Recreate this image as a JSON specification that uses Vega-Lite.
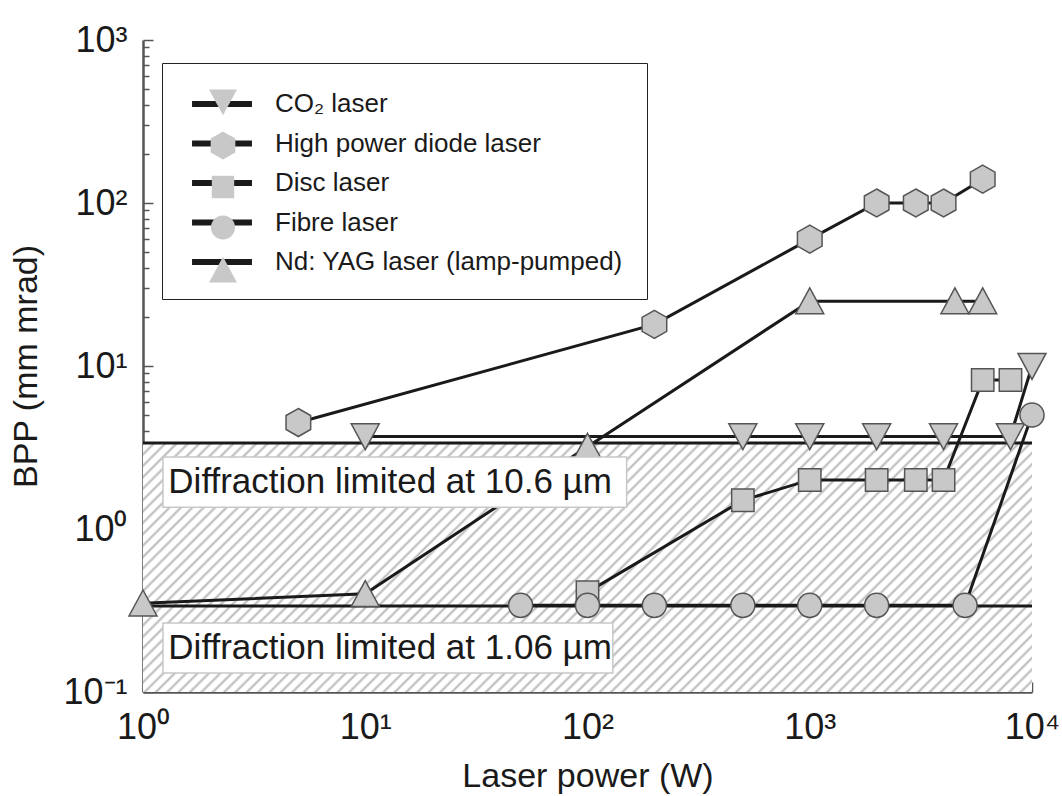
{
  "$schema": "https://vega.github.io/schema/vega-lite/v6.json",
  "width": 889,
  "height": 652,
  "autosize": {"type": "none"},
  "padding": {"left": 143, "top": 40, "right": 30, "bottom": 104},
  "background": "white",
  "config": {"view": {"stroke": null}, "font": "Liberation Sans"},
  "datasets": {
    "lasers": [
      {"series": "CO₂ laser", "code": "a", "power": 10, "bpp": 3.7},
      {"series": "CO₂ laser", "code": "a", "power": 500, "bpp": 3.7},
      {"series": "CO₂ laser", "code": "a", "power": 1000, "bpp": 3.7},
      {"series": "CO₂ laser", "code": "a", "power": 2000, "bpp": 3.7},
      {"series": "CO₂ laser", "code": "a", "power": 4000, "bpp": 3.7},
      {"series": "CO₂ laser", "code": "a", "power": 8000, "bpp": 3.7},
      {"series": "CO₂ laser", "code": "a", "power": 10000, "bpp": 10},
      {"series": "High power diode laser", "code": "b", "power": 5, "bpp": 4.5},
      {"series": "High power diode laser", "code": "b", "power": 200, "bpp": 18},
      {"series": "High power diode laser", "code": "b", "power": 1000, "bpp": 60},
      {"series": "High power diode laser", "code": "b", "power": 2000, "bpp": 100},
      {"series": "High power diode laser", "code": "b", "power": 3000, "bpp": 100},
      {"series": "High power diode laser", "code": "b", "power": 4000, "bpp": 100},
      {"series": "High power diode laser", "code": "b", "power": 6000, "bpp": 140},
      {"series": "Disc laser", "code": "c", "power": 100, "bpp": 0.41},
      {"series": "Disc laser", "code": "c", "power": 500, "bpp": 1.5},
      {"series": "Disc laser", "code": "c", "power": 1000, "bpp": 2},
      {"series": "Disc laser", "code": "c", "power": 2000, "bpp": 2},
      {"series": "Disc laser", "code": "c", "power": 3000, "bpp": 2},
      {"series": "Disc laser", "code": "c", "power": 4000, "bpp": 2},
      {"series": "Disc laser", "code": "c", "power": 6000, "bpp": 8.2},
      {"series": "Disc laser", "code": "c", "power": 8000, "bpp": 8.2},
      {"series": "Fibre laser", "code": "d", "power": 50, "bpp": 0.34},
      {"series": "Fibre laser", "code": "d", "power": 100, "bpp": 0.34},
      {"series": "Fibre laser", "code": "d", "power": 200, "bpp": 0.34},
      {"series": "Fibre laser", "code": "d", "power": 500, "bpp": 0.34},
      {"series": "Fibre laser", "code": "d", "power": 1000, "bpp": 0.34},
      {"series": "Fibre laser", "code": "d", "power": 2000, "bpp": 0.34},
      {"series": "Fibre laser", "code": "d", "power": 5000, "bpp": 0.34},
      {"series": "Fibre laser", "code": "d", "power": 10000, "bpp": 5},
      {"series": "Nd: YAG laser (lamp-pumped)", "code": "e", "power": 1, "bpp": 0.35},
      {"series": "Nd: YAG laser (lamp-pumped)", "code": "e", "power": 10, "bpp": 0.4},
      {"series": "Nd: YAG laser (lamp-pumped)", "code": "e", "power": 100, "bpp": 3.2},
      {"series": "Nd: YAG laser (lamp-pumped)", "code": "e", "power": 1000, "bpp": 25},
      {"series": "Nd: YAG laser (lamp-pumped)", "code": "e", "power": 4500, "bpp": 25},
      {"series": "Nd: YAG laser (lamp-pumped)", "code": "e", "power": 6000, "bpp": 25}
    ],
    "limits": [
      {"wavelength": "10.6 µm", "bpp": 3.37},
      {"wavelength": "1.06 µm", "bpp": 0.337}
    ]
  },
  "layer": [
    {
      "data": {"values": [{}]},
      "mark": {
        "type": "rect",
        "fill": {
          "gradient": "linear", "x1": 0, "y1": 0, "x2": 1.187, "y2": 0.332,
          "stops": [
            {"offset":0,"color":"#b8b8b8"},{"offset":0.0025,"color":"#fff"},{"offset":0.0075,"color":"#fff"},
            {"offset":0.01,"color":"#b8b8b8"},{"offset":0.0125,"color":"#fff"},{"offset":0.0175,"color":"#fff"},
            {"offset":0.02,"color":"#b8b8b8"},{"offset":0.0225,"color":"#fff"},{"offset":0.0275,"color":"#fff"},
            {"offset":0.03,"color":"#b8b8b8"},{"offset":0.0325,"color":"#fff"},{"offset":0.0375,"color":"#fff"},
            {"offset":0.04,"color":"#b8b8b8"},{"offset":0.0425,"color":"#fff"},{"offset":0.0475,"color":"#fff"},
            {"offset":0.05,"color":"#b8b8b8"},{"offset":0.0525,"color":"#fff"},{"offset":0.0575,"color":"#fff"},
            {"offset":0.06,"color":"#b8b8b8"},{"offset":0.0625,"color":"#fff"},{"offset":0.0675,"color":"#fff"},
            {"offset":0.07,"color":"#b8b8b8"},{"offset":0.0725,"color":"#fff"},{"offset":0.0775,"color":"#fff"},
            {"offset":0.08,"color":"#b8b8b8"},{"offset":0.0825,"color":"#fff"},{"offset":0.0875,"color":"#fff"},
            {"offset":0.09,"color":"#b8b8b8"},{"offset":0.0925,"color":"#fff"},{"offset":0.0975,"color":"#fff"},
            {"offset":0.10,"color":"#b8b8b8"},{"offset":0.1025,"color":"#fff"},{"offset":0.1075,"color":"#fff"},
            {"offset":0.11,"color":"#b8b8b8"},{"offset":0.1125,"color":"#fff"},{"offset":0.1175,"color":"#fff"},
            {"offset":0.12,"color":"#b8b8b8"},{"offset":0.1225,"color":"#fff"},{"offset":0.1275,"color":"#fff"},
            {"offset":0.13,"color":"#b8b8b8"},{"offset":0.1325,"color":"#fff"},{"offset":0.1375,"color":"#fff"},
            {"offset":0.14,"color":"#b8b8b8"},{"offset":0.1425,"color":"#fff"},{"offset":0.1475,"color":"#fff"},
            {"offset":0.15,"color":"#b8b8b8"},{"offset":0.1525,"color":"#fff"},{"offset":0.1575,"color":"#fff"},
            {"offset":0.16,"color":"#b8b8b8"},{"offset":0.1625,"color":"#fff"},{"offset":0.1675,"color":"#fff"},
            {"offset":0.17,"color":"#b8b8b8"},{"offset":0.1725,"color":"#fff"},{"offset":0.1775,"color":"#fff"},
            {"offset":0.18,"color":"#b8b8b8"},{"offset":0.1825,"color":"#fff"},{"offset":0.1875,"color":"#fff"},
            {"offset":0.19,"color":"#b8b8b8"},{"offset":0.1925,"color":"#fff"},{"offset":0.1975,"color":"#fff"},
            {"offset":0.20,"color":"#b8b8b8"},{"offset":0.2025,"color":"#fff"},{"offset":0.2075,"color":"#fff"},
            {"offset":0.21,"color":"#b8b8b8"},{"offset":0.2125,"color":"#fff"},{"offset":0.2175,"color":"#fff"},
            {"offset":0.22,"color":"#b8b8b8"},{"offset":0.2225,"color":"#fff"},{"offset":0.2275,"color":"#fff"},
            {"offset":0.23,"color":"#b8b8b8"},{"offset":0.2325,"color":"#fff"},{"offset":0.2375,"color":"#fff"},
            {"offset":0.24,"color":"#b8b8b8"},{"offset":0.2425,"color":"#fff"},{"offset":0.2475,"color":"#fff"},
            {"offset":0.25,"color":"#b8b8b8"},{"offset":0.2525,"color":"#fff"},{"offset":0.2575,"color":"#fff"},
            {"offset":0.26,"color":"#b8b8b8"},{"offset":0.2625,"color":"#fff"},{"offset":0.2675,"color":"#fff"},
            {"offset":0.27,"color":"#b8b8b8"},{"offset":0.2725,"color":"#fff"},{"offset":0.2775,"color":"#fff"},
            {"offset":0.28,"color":"#b8b8b8"},{"offset":0.2825,"color":"#fff"},{"offset":0.2875,"color":"#fff"},
            {"offset":0.29,"color":"#b8b8b8"},{"offset":0.2925,"color":"#fff"},{"offset":0.2975,"color":"#fff"},
            {"offset":0.30,"color":"#b8b8b8"},{"offset":0.3025,"color":"#fff"},{"offset":0.3075,"color":"#fff"},
            {"offset":0.31,"color":"#b8b8b8"},{"offset":0.3125,"color":"#fff"},{"offset":0.3175,"color":"#fff"},
            {"offset":0.32,"color":"#b8b8b8"},{"offset":0.3225,"color":"#fff"},{"offset":0.3275,"color":"#fff"},
            {"offset":0.33,"color":"#b8b8b8"},{"offset":0.3325,"color":"#fff"},{"offset":0.3375,"color":"#fff"},
            {"offset":0.34,"color":"#b8b8b8"},{"offset":0.3425,"color":"#fff"},{"offset":0.3475,"color":"#fff"},
            {"offset":0.35,"color":"#b8b8b8"},{"offset":0.3525,"color":"#fff"},{"offset":0.3575,"color":"#fff"},
            {"offset":0.36,"color":"#b8b8b8"},{"offset":0.3625,"color":"#fff"},{"offset":0.3675,"color":"#fff"},
            {"offset":0.37,"color":"#b8b8b8"},{"offset":0.3725,"color":"#fff"},{"offset":0.3775,"color":"#fff"},
            {"offset":0.38,"color":"#b8b8b8"},{"offset":0.3825,"color":"#fff"},{"offset":0.3875,"color":"#fff"},
            {"offset":0.39,"color":"#b8b8b8"},{"offset":0.3925,"color":"#fff"},{"offset":0.3975,"color":"#fff"},
            {"offset":0.40,"color":"#b8b8b8"},{"offset":0.4025,"color":"#fff"},{"offset":0.4075,"color":"#fff"},
            {"offset":0.41,"color":"#b8b8b8"},{"offset":0.4125,"color":"#fff"},{"offset":0.4175,"color":"#fff"},
            {"offset":0.42,"color":"#b8b8b8"},{"offset":0.4225,"color":"#fff"},{"offset":0.4275,"color":"#fff"},
            {"offset":0.43,"color":"#b8b8b8"},{"offset":0.4325,"color":"#fff"},{"offset":0.4375,"color":"#fff"},
            {"offset":0.44,"color":"#b8b8b8"},{"offset":0.4425,"color":"#fff"},{"offset":0.4475,"color":"#fff"},
            {"offset":0.45,"color":"#b8b8b8"},{"offset":0.4525,"color":"#fff"},{"offset":0.4575,"color":"#fff"},
            {"offset":0.46,"color":"#b8b8b8"},{"offset":0.4625,"color":"#fff"},{"offset":0.4675,"color":"#fff"},
            {"offset":0.47,"color":"#b8b8b8"},{"offset":0.4725,"color":"#fff"},{"offset":0.4775,"color":"#fff"},
            {"offset":0.48,"color":"#b8b8b8"},{"offset":0.4825,"color":"#fff"},{"offset":0.4875,"color":"#fff"},
            {"offset":0.49,"color":"#b8b8b8"},{"offset":0.4925,"color":"#fff"},{"offset":0.4975,"color":"#fff"},
            {"offset":0.50,"color":"#b8b8b8"},{"offset":0.5025,"color":"#fff"},{"offset":0.5075,"color":"#fff"},
            {"offset":0.51,"color":"#b8b8b8"},{"offset":0.5125,"color":"#fff"},{"offset":0.5175,"color":"#fff"},
            {"offset":0.52,"color":"#b8b8b8"},{"offset":0.5225,"color":"#fff"},{"offset":0.5275,"color":"#fff"},
            {"offset":0.53,"color":"#b8b8b8"},{"offset":0.5325,"color":"#fff"},{"offset":0.5375,"color":"#fff"},
            {"offset":0.54,"color":"#b8b8b8"},{"offset":0.5425,"color":"#fff"},{"offset":0.5475,"color":"#fff"},
            {"offset":0.55,"color":"#b8b8b8"},{"offset":0.5525,"color":"#fff"},{"offset":0.5575,"color":"#fff"},
            {"offset":0.56,"color":"#b8b8b8"},{"offset":0.5625,"color":"#fff"},{"offset":0.5675,"color":"#fff"},
            {"offset":0.57,"color":"#b8b8b8"},{"offset":0.5725,"color":"#fff"},{"offset":0.5775,"color":"#fff"},
            {"offset":0.58,"color":"#b8b8b8"},{"offset":0.5825,"color":"#fff"},{"offset":0.5875,"color":"#fff"},
            {"offset":0.59,"color":"#b8b8b8"},{"offset":0.5925,"color":"#fff"},{"offset":0.5975,"color":"#fff"},
            {"offset":0.60,"color":"#b8b8b8"},{"offset":0.6025,"color":"#fff"},{"offset":0.6075,"color":"#fff"},
            {"offset":0.61,"color":"#b8b8b8"},{"offset":0.6125,"color":"#fff"},{"offset":0.6175,"color":"#fff"},
            {"offset":0.62,"color":"#b8b8b8"},{"offset":0.6225,"color":"#fff"},{"offset":0.6275,"color":"#fff"},
            {"offset":0.63,"color":"#b8b8b8"},{"offset":0.6325,"color":"#fff"},{"offset":0.6375,"color":"#fff"},
            {"offset":0.64,"color":"#b8b8b8"},{"offset":0.6425,"color":"#fff"},{"offset":0.6475,"color":"#fff"},
            {"offset":0.65,"color":"#b8b8b8"},{"offset":0.6525,"color":"#fff"},{"offset":0.6575,"color":"#fff"},
            {"offset":0.66,"color":"#b8b8b8"},{"offset":0.6625,"color":"#fff"},{"offset":0.6675,"color":"#fff"},
            {"offset":0.67,"color":"#b8b8b8"},{"offset":0.6725,"color":"#fff"},{"offset":0.6775,"color":"#fff"},
            {"offset":0.68,"color":"#b8b8b8"},{"offset":0.6825,"color":"#fff"},{"offset":0.6875,"color":"#fff"},
            {"offset":0.69,"color":"#b8b8b8"},{"offset":0.6925,"color":"#fff"},{"offset":0.6975,"color":"#fff"},
            {"offset":0.70,"color":"#b8b8b8"},{"offset":0.7025,"color":"#fff"},{"offset":0.7075,"color":"#fff"},
            {"offset":0.71,"color":"#b8b8b8"},{"offset":0.7125,"color":"#fff"},{"offset":0.7175,"color":"#fff"},
            {"offset":0.72,"color":"#b8b8b8"},{"offset":0.7225,"color":"#fff"},{"offset":0.7275,"color":"#fff"},
            {"offset":0.73,"color":"#b8b8b8"},{"offset":0.7325,"color":"#fff"},{"offset":0.7375,"color":"#fff"},
            {"offset":0.74,"color":"#b8b8b8"},{"offset":0.7425,"color":"#fff"},{"offset":0.7475,"color":"#fff"},
            {"offset":0.75,"color":"#b8b8b8"},{"offset":0.7525,"color":"#fff"},{"offset":0.7575,"color":"#fff"},
            {"offset":0.76,"color":"#b8b8b8"},{"offset":0.7625,"color":"#fff"},{"offset":0.7675,"color":"#fff"},
            {"offset":0.77,"color":"#b8b8b8"},{"offset":0.7725,"color":"#fff"},{"offset":0.7775,"color":"#fff"},
            {"offset":0.78,"color":"#b8b8b8"},{"offset":0.7825,"color":"#fff"},{"offset":0.7875,"color":"#fff"},
            {"offset":0.79,"color":"#b8b8b8"},{"offset":0.7925,"color":"#fff"},{"offset":0.7975,"color":"#fff"},
            {"offset":0.80,"color":"#b8b8b8"},{"offset":0.8025,"color":"#fff"},{"offset":0.8075,"color":"#fff"},
            {"offset":0.81,"color":"#b8b8b8"},{"offset":0.8125,"color":"#fff"},{"offset":0.8175,"color":"#fff"},
            {"offset":0.82,"color":"#b8b8b8"},{"offset":0.8225,"color":"#fff"},{"offset":0.8275,"color":"#fff"},
            {"offset":0.83,"color":"#b8b8b8"},{"offset":0.8325,"color":"#fff"},{"offset":0.8375,"color":"#fff"},
            {"offset":0.84,"color":"#b8b8b8"},{"offset":0.8425,"color":"#fff"},{"offset":0.8475,"color":"#fff"},
            {"offset":0.85,"color":"#b8b8b8"},{"offset":0.8525,"color":"#fff"},{"offset":0.8575,"color":"#fff"},
            {"offset":0.86,"color":"#b8b8b8"},{"offset":0.8625,"color":"#fff"},{"offset":0.8675,"color":"#fff"},
            {"offset":0.87,"color":"#b8b8b8"},{"offset":0.8725,"color":"#fff"},{"offset":0.8775,"color":"#fff"},
            {"offset":0.88,"color":"#b8b8b8"},{"offset":0.8825,"color":"#fff"},{"offset":0.8875,"color":"#fff"},
            {"offset":0.89,"color":"#b8b8b8"},{"offset":0.8925,"color":"#fff"},{"offset":0.8975,"color":"#fff"},
            {"offset":0.90,"color":"#b8b8b8"},{"offset":0.9025,"color":"#fff"},{"offset":0.9075,"color":"#fff"},
            {"offset":0.91,"color":"#b8b8b8"},{"offset":0.9125,"color":"#fff"},{"offset":0.9175,"color":"#fff"},
            {"offset":0.92,"color":"#b8b8b8"},{"offset":0.9225,"color":"#fff"},{"offset":0.9275,"color":"#fff"},
            {"offset":0.93,"color":"#b8b8b8"},{"offset":0.9325,"color":"#fff"},{"offset":0.9375,"color":"#fff"},
            {"offset":0.94,"color":"#b8b8b8"},{"offset":0.9425,"color":"#fff"},{"offset":0.9475,"color":"#fff"},
            {"offset":0.95,"color":"#b8b8b8"},{"offset":0.9525,"color":"#fff"},{"offset":0.9575,"color":"#fff"},
            {"offset":0.96,"color":"#b8b8b8"},{"offset":0.9625,"color":"#fff"},{"offset":0.9675,"color":"#fff"},
            {"offset":0.97,"color":"#b8b8b8"},{"offset":0.9725,"color":"#fff"},{"offset":0.9775,"color":"#fff"},
            {"offset":0.98,"color":"#b8b8b8"},{"offset":0.9825,"color":"#fff"},{"offset":0.9875,"color":"#fff"},
            {"offset":0.99,"color":"#b8b8b8"},{"offset":0.9925,"color":"#fff"},{"offset":0.9975,"color":"#fff"},
            {"offset":1,"color":"#b8b8b8"}
          ]
        }
      },
      "encoding": {
        "x": {
          "datum": 1, "type": "quantitative",
          "scale": {"type": "log", "domain": [1, 10000], "nice": false},
          "axis": {
            "title": "Laser power (W)",
            "titleFont": "Liberation Sans", "titleFontSize": 34, "titleFontWeight": "normal", "titleColor": "#1a1a1a", "titlePadding": 10,
            "values": [1,2,3,4,5,6,7,8,9,10,20,30,40,50,60,70,80,90,100,200,300,400,500,600,700,800,900,1000,2000,3000,4000,5000,6000,7000,8000,9000,10000],
            "labelExpr": "datum.value == 1 ? '10⁰' : datum.value == 10 ? '10¹' : datum.value == 100 ? '10²' : datum.value == 1000 ? '10³' : datum.value == 10000 ? '10⁴' : ''",
            "labelFont": "Liberation Sans", "labelFontSize": 36, "labelColor": "#1a1a1a", "labelPadding": 28, "labelFlush": false, "labelOverlap": false,
            "grid": false, "domainColor": "#555", "domainWidth": 2.5, "tickColor": "#555", "tickWidth": 1.5,
            "tickSize": {"condition": {"test": "indexof([1,10,100,1000,10000], datum.value) >= 0", "value": -10}, "value": -6}
          }
        },
        "x2": {"datum": 10000},
        "y": {
          "datum": 0.1, "type": "quantitative",
          "scale": {"type": "log", "domain": [0.1, 1000], "nice": false},
          "axis": {
            "title": "BPP (mm mrad)",
            "titleFont": "Liberation Sans", "titleFontSize": 34, "titleFontWeight": "normal", "titleColor": "#1a1a1a", "titlePadding": 19,
            "values": [0.1,0.2,0.3,0.4,0.5,0.6,0.7,0.8,0.9,1,2,3,4,5,6,7,8,9,10,20,30,40,50,60,70,80,90,100,200,300,400,500,600,700,800,900,1000],
            "labelExpr": "datum.value == 0.1 ? '10⁻¹' : datum.value == 1 ? '10⁰' : datum.value == 10 ? '10¹' : datum.value == 100 ? '10²' : datum.value == 1000 ? '10³' : ''",
            "labelFont": "Liberation Sans", "labelFontSize": 36, "labelColor": "#1a1a1a", "labelPadding": 26, "labelOverlap": false, "labelFlush": false,
            "grid": false, "domainColor": "#555", "domainWidth": 2.5, "tickColor": "#555", "tickWidth": 1.5,
            "tickSize": {"condition": {"test": "indexof([0.1,1,10,100,1000], datum.value) >= 0", "value": -10}, "value": -6}
          }
        },
        "y2": {"datum": 3.37}
      }
    },
    {
      "data": {"name": "limits"},
      "mark": {"type": "rule", "stroke": "#1a1a1a", "strokeWidth": 3},
      "encoding": {
        "x": {"datum": 1, "type": "quantitative"},
        "x2": {"datum": 10000},
        "y": {"field": "bpp", "type": "quantitative"}
      }
    },
    {
      "data": {"name": "lasers"},
      "mark": {"type": "line", "strokeWidth": 3},
      "encoding": {
        "x": {"field": "power", "type": "quantitative"},
        "y": {"field": "bpp", "type": "quantitative"},
        "stroke": {
          "field": "series", "type": "nominal",
          "scale": {
            "domain": ["CO₂ laser", "High power diode laser", "Disc laser", "Fibre laser", "Nd: YAG laser (lamp-pumped)"],
            "range": ["#1a1a1a", "#1a1a1a", "#1a1a1a", "#1a1a1a", "#1a1a1a"]
          },
          "legend": {
            "orient": "none", "legendX": 19, "legendY": 23, "title": null,
            "symbolType": "M-2.14,0L2.14,0", "symbolSize": 784, "symbolStrokeWidth": 6, "symbolStrokeColor": "#1a1a1a",
            "labelFont": "Liberation Sans", "labelFontSize": 26, "labelColor": "#1a1a1a", "labelOffset": 36, "labelLimit": 600,
            "rowPadding": 9.5, "padding": 24, "symbolOffset": 19,
            "strokeColor": "#222"
          }
        }
      }
    },
    {
      "data": {"name": "lasers"},
      "mark": {"type": "point", "filled": true, "fill": "#c8c8c8", "stroke": "#555", "strokeWidth": 1.5, "size": 784, "opacity": 1},
      "encoding": {
        "x": {"field": "power", "type": "quantitative"},
        "y": {"field": "bpp", "type": "quantitative"},
        "shape": {
          "field": "code", "type": "nominal",
          "scale": {
            "domain": ["a", "b", "c", "d", "e"],
            "range": [
              "M0,0.95L1,-0.9L-1,-0.9Z",
              "M0,-1L0.88,-0.5L0.88,0.5L0,1L-0.88,0.5L-0.88,-0.5Z",
              "M-0.8,-0.8L0.8,-0.8L0.8,0.8L-0.8,0.8Z",
              "M-0.86,0A0.86,0.86,0,1,1,0.86,0A0.86,0.86,0,1,1,-0.86,0Z",
              "M0,-0.95L1,0.9L-1,0.9Z"
            ]
          },
          "legend": {
            "orient": "none", "legendX": 35, "legendY": 23, "title": null,
            "symbolSize": 784, "symbolFillColor": "#c8c8c8", "symbolStrokeColor": "#555", "symbolStrokeWidth": 1.5,
            "labelFont": "Liberation Sans", "labelFontSize": 26, "labelColor": "transparent",
            "rowPadding": 9.5, "padding": 24, "symbolOffset": 6,
            "encode": {"symbols": {"update": {"stroke": {"value": "#555"}, "strokeWidth": {"value": 1.5}, "fill": {"value": "#c8c8c8"}, "opacity": {"value": 1}}}}
          }
        }
      }
    },
    {
      "data": {"values": [{}]},
      "mark": {"type": "rect", "fill": "#fff", "stroke": "#c8c8c8", "strokeWidth": 1.5},
      "encoding": {
        "x": {"datum": 1.23, "type": "quantitative"},
        "x2": {"datum": 150},
        "y": {"datum": 1.36, "type": "quantitative"},
        "y2": {"datum": 2.77}
      }
    },
    {
      "data": {"values": [{}]},
      "mark": {"type": "rect", "fill": "#fff", "stroke": "#c8c8c8", "strokeWidth": 1.5},
      "encoding": {
        "x": {"datum": 1.23, "type": "quantitative"},
        "x2": {"datum": 130},
        "y": {"datum": 0.131, "type": "quantitative"},
        "y2": {"datum": 0.265}
      }
    },
    {
      "data": {"values": [{}]},
      "mark": {"type": "text", "text": "Diffraction limited at 10.6 µm", "font": "Liberation Sans", "fontSize": 35, "align": "left", "baseline": "middle", "color": "#1a1a1a"},
      "encoding": {
        "x": {"datum": 1.3, "type": "quantitative"},
        "y": {"datum": 1.94, "type": "quantitative"}
      }
    },
    {
      "data": {"values": [{}]},
      "mark": {"type": "text", "text": "Diffraction limited at 1.06 µm", "font": "Liberation Sans", "fontSize": 35, "align": "left", "baseline": "middle", "color": "#1a1a1a"},
      "encoding": {
        "x": {"datum": 1.3, "type": "quantitative"},
        "y": {"datum": 0.186, "type": "quantitative"}
      }
    }
  ]
}
